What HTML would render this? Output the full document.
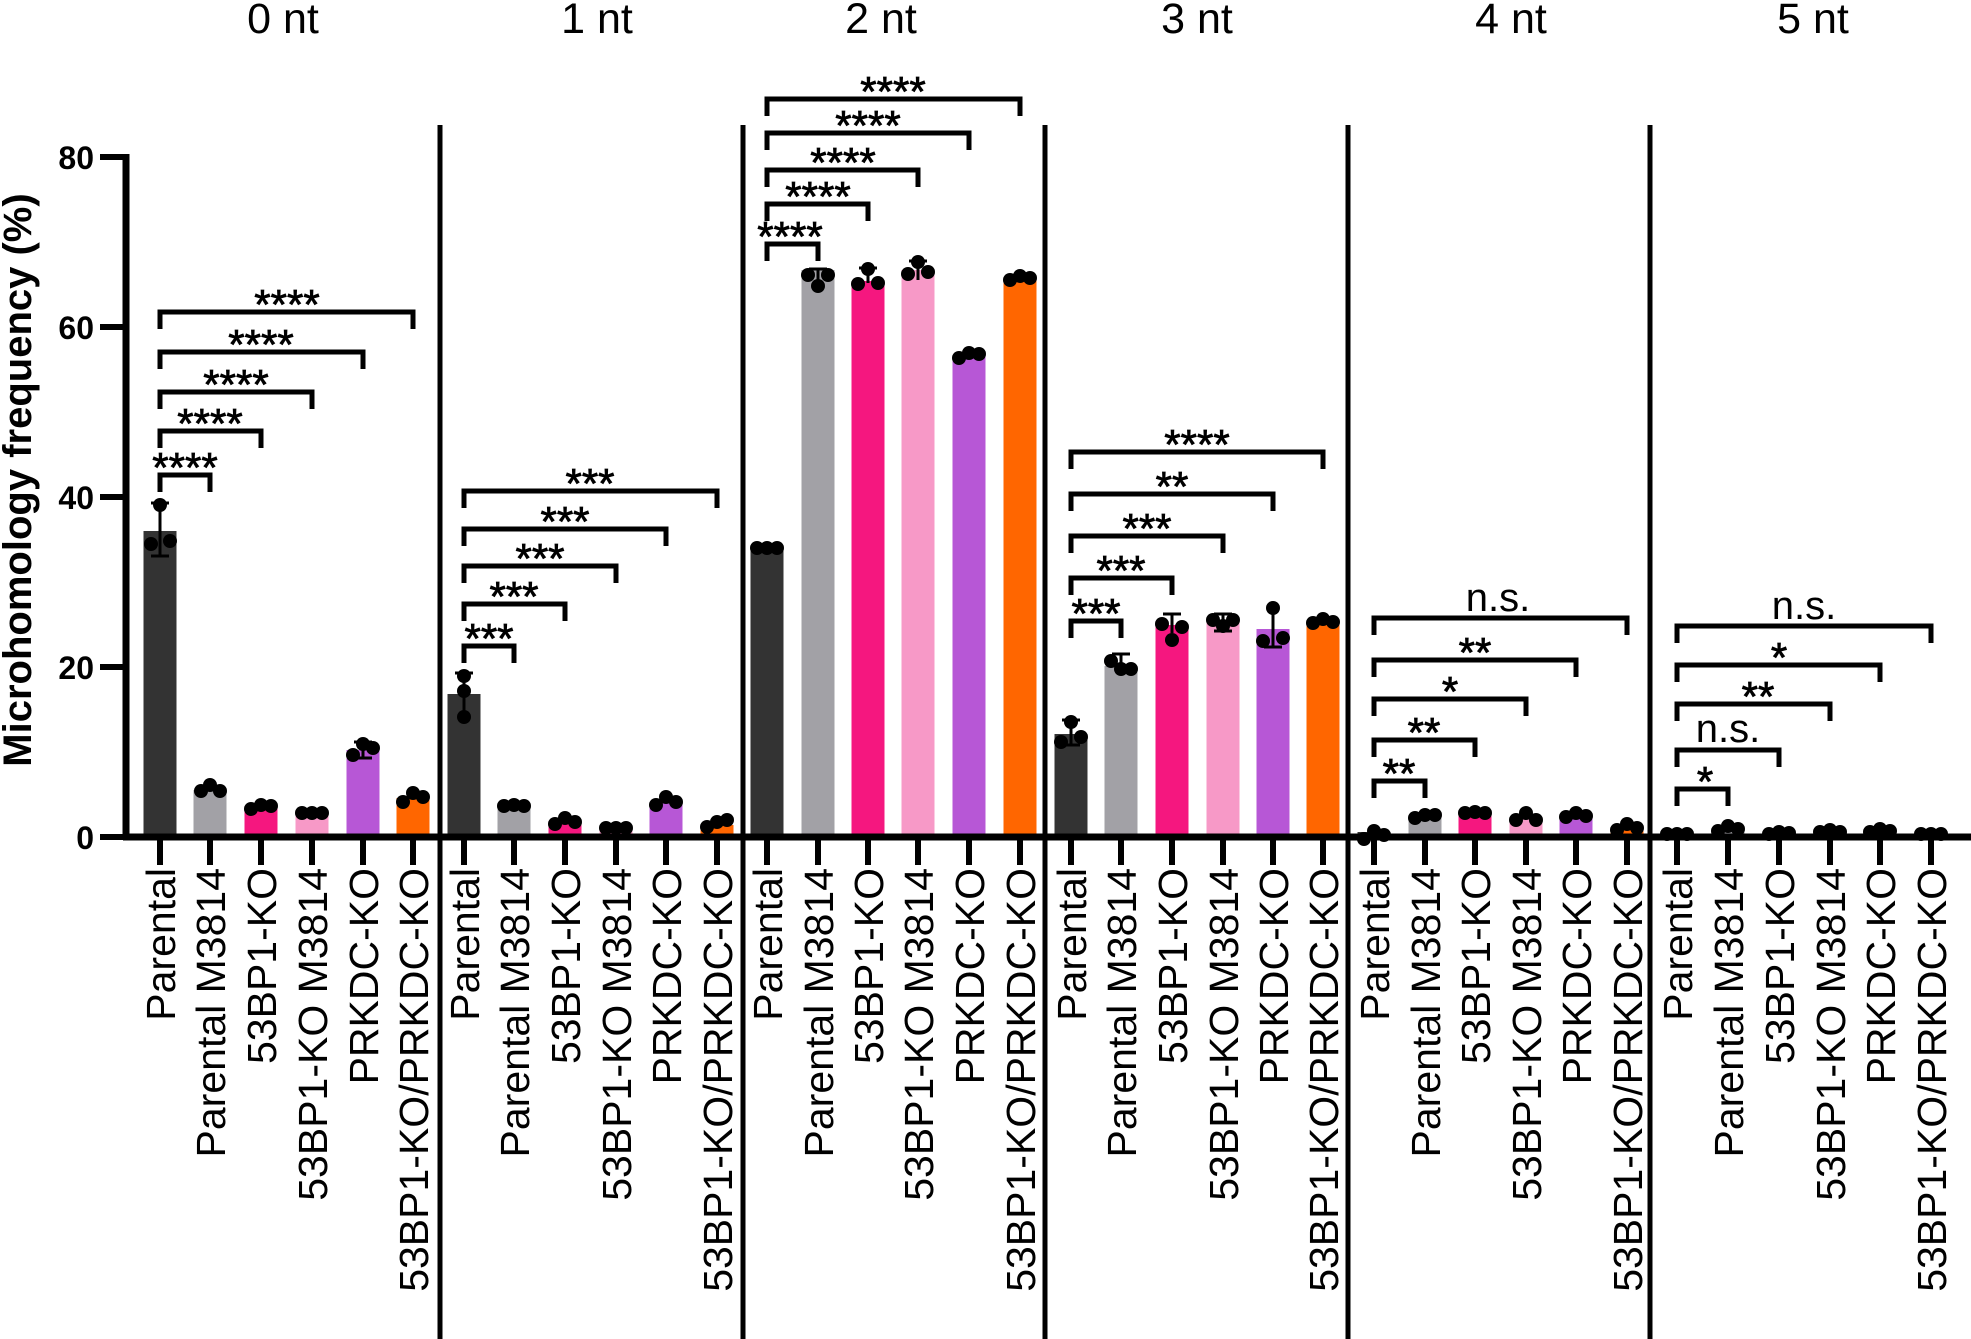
<!DOCTYPE html>
<html><head><meta charset="utf-8"><style>
html,body{margin:0;padding:0;background:#fff;}
svg{display:block;}
text{font-family:"Liberation Sans",Arial,sans-serif;fill:#000;}
.br{fill:none;stroke:#000;stroke-width:5;}
.st{font-size:42px;text-anchor:middle;stroke:#000;stroke-width:0.8px;}
.ns{font-size:40px;text-anchor:middle;}
.xl{font-size:41px;text-anchor:end;}
.tt{font-size:43px;text-anchor:middle;}
.yl{font-size:32px;font-weight:bold;text-anchor:end;}
.eb{stroke:#000;stroke-width:3;fill:none;}
</style></head><body>
<svg width="1971" height="1339" viewBox="0 0 1971 1339" xmlns="http://www.w3.org/2000/svg">
<!-- titles -->
<text class="tt" x="283" y="33">0 nt</text>
<text class="tt" x="597" y="33">1 nt</text>
<text class="tt" x="881" y="33">2 nt</text>
<text class="tt" x="1197" y="33">3 nt</text>
<text class="tt" x="1511" y="33">4 nt</text>
<text class="tt" x="1813" y="33">5 nt</text>
<!-- y axis title -->
<text transform="translate(31,480) rotate(-90)" style="font-size:40px;font-weight:bold;text-anchor:middle">Microhomology frequency (%)</text>
<!-- y ticks -->
<text class="yl" x="94" y="169">80</text>
<text class="yl" x="94" y="339">60</text>
<text class="yl" x="94" y="509">40</text>
<text class="yl" x="94" y="679">20</text>
<text class="yl" x="94" y="849">0</text>
<g stroke="#000" stroke-width="6">
<line x1="100" y1="157" x2="126" y2="157"/>
<line x1="100" y1="327" x2="126" y2="327"/>
<line x1="100" y1="497" x2="126" y2="497"/>
<line x1="100" y1="667" x2="126" y2="667"/>
<line x1="100" y1="837" x2="126" y2="837"/>
</g>
<!-- bars -->
<g>
<rect x="143.5" y="531" width="33" height="306" fill="#333"/>
<rect x="193.5" y="790" width="33" height="47" fill="#a2a1a6"/>
<rect x="244.5" y="806" width="33" height="31" fill="#f5177f"/>
<rect x="295.5" y="813" width="33" height="24" fill="#f799c7"/>
<rect x="346.5" y="750" width="33" height="87" fill="#b757d6"/>
<rect x="396.5" y="798" width="33" height="39" fill="#ff6600"/>

<rect x="447.5" y="694" width="33" height="143" fill="#333"/>
<rect x="497.5" y="806" width="33" height="31" fill="#a2a1a6"/>
<rect x="548.5" y="821" width="33" height="16" fill="#f5177f"/>
<rect x="599.5" y="828" width="33" height="9" fill="#f799c7"/>
<rect x="649.5" y="803" width="33" height="34" fill="#b757d6"/>
<rect x="700.5" y="825" width="33" height="12" fill="#ff6600"/>

<rect x="750.5" y="547" width="33" height="290" fill="#333"/>
<rect x="801.5" y="270" width="33" height="567" fill="#a2a1a6"/>
<rect x="851.5" y="281" width="33" height="556" fill="#f5177f"/>
<rect x="901.5" y="270" width="33" height="567" fill="#f799c7"/>
<rect x="952.5" y="356" width="33" height="481" fill="#b757d6"/>
<rect x="1003.5" y="280" width="33" height="557" fill="#ff6600"/>

<rect x="1054.5" y="734" width="33" height="103" fill="#333"/>
<rect x="1104.5" y="666" width="33" height="171" fill="#a2a1a6"/>
<rect x="1155.5" y="625" width="33" height="212" fill="#f5177f"/>
<rect x="1206.5" y="622" width="33" height="215" fill="#f799c7"/>
<rect x="1256.5" y="629" width="33" height="208" fill="#b757d6"/>
<rect x="1306.5" y="622" width="33" height="215" fill="#ff6600"/>

<rect x="1357.5" y="832" width="33" height="5" fill="#333"/>
<rect x="1408.5" y="816" width="33" height="21" fill="#a2a1a6"/>
<rect x="1458.5" y="812" width="33" height="25" fill="#f5177f"/>
<rect x="1509.5" y="818" width="33" height="19" fill="#f799c7"/>
<rect x="1559.5" y="816" width="33" height="21" fill="#b757d6"/>
<rect x="1610.5" y="828" width="33" height="9" fill="#ff6600"/>

<rect x="1660.5" y="833" width="33" height="4" fill="#333"/>
<rect x="1711.5" y="828" width="33" height="9" fill="#a2a1a6"/>
<rect x="1762.5" y="832" width="33" height="5" fill="#f5177f"/>
<rect x="1813.5" y="830" width="33" height="7" fill="#f799c7"/>
<rect x="1863.5" y="829" width="33" height="8" fill="#b757d6"/>
<rect x="1914.5" y="833" width="33" height="4" fill="#ff6600"/>
</g>
<!-- error bars -->
<path class="eb" d="M160 503V556M151 503H169M151 556H169"/>
<path class="eb" d="M363 742V758M354 742H372M354 758H372"/>
<path class="eb" d="M464 673V712M455 673H473"/>
<path class="eb" d="M818 269V283M809 269H827"/>
<path class="eb" d="M868 268V283M859 268H877"/>
<path class="eb" d="M918 261V280M909 261H927"/>
<path class="eb" d="M1071 720V745M1062 720H1080M1062 745H1080"/>
<path class="eb" d="M1121 654V668M1112 654H1130"/>
<path class="eb" d="M1172 614V633M1163 614H1181"/>
<path class="eb" d="M1223 614V631M1214 614H1232M1214 631H1232"/>
<path class="eb" d="M1273 606V647M1264 647H1282"/>
<!-- dots -->
<g fill="#000">
<circle cx="160" cy="505" r="7"/><circle cx="151" cy="544" r="7"/><circle cx="170" cy="541" r="7"/>
<circle cx="201" cy="791" r="7"/><circle cx="210" cy="785" r="7"/><circle cx="220" cy="791" r="7"/>
<circle cx="251" cy="809" r="7"/><circle cx="261" cy="805" r="7"/><circle cx="271" cy="806" r="7"/>
<circle cx="302" cy="813" r="7"/><circle cx="312" cy="813" r="7"/><circle cx="322" cy="813" r="7"/>
<circle cx="353" cy="755" r="7"/><circle cx="363" cy="744" r="7"/><circle cx="373" cy="748" r="7"/>
<circle cx="403" cy="802" r="7"/><circle cx="413" cy="793" r="7"/><circle cx="423" cy="797" r="7"/>

<circle cx="464" cy="676" r="7"/><circle cx="464" cy="691" r="7"/><circle cx="464" cy="717" r="7"/>
<circle cx="504" cy="806" r="7"/><circle cx="514" cy="805" r="7"/><circle cx="524" cy="806" r="7"/>
<circle cx="555" cy="824" r="7"/><circle cx="565" cy="818" r="7"/><circle cx="575" cy="822" r="7"/>
<circle cx="606" cy="828" r="7"/><circle cx="616" cy="828" r="7"/><circle cx="626" cy="828" r="7"/>
<circle cx="656" cy="805" r="7"/><circle cx="666" cy="797" r="7"/><circle cx="676" cy="802" r="7"/>
<circle cx="707" cy="827" r="7"/><circle cx="717" cy="822" r="7"/><circle cx="727" cy="820" r="7"/>

<circle cx="757" cy="548" r="7"/><circle cx="767" cy="548" r="7"/><circle cx="777" cy="548" r="7"/>
<circle cx="808" cy="275" r="7"/><circle cx="818" cy="286" r="7"/><circle cx="828" cy="275" r="7"/>
<circle cx="858" cy="284" r="7"/><circle cx="868" cy="269" r="7"/><circle cx="878" cy="283" r="7"/>
<circle cx="908" cy="274" r="7"/><circle cx="918" cy="262" r="7"/><circle cx="928" cy="272" r="7"/>
<circle cx="959" cy="358" r="7"/><circle cx="969" cy="353" r="7"/><circle cx="979" cy="354" r="7"/>
<circle cx="1010" cy="280" r="7"/><circle cx="1020" cy="276" r="7"/><circle cx="1030" cy="278" r="7"/>

<circle cx="1061" cy="742" r="7"/><circle cx="1071" cy="722" r="7"/><circle cx="1081" cy="737" r="7"/>
<circle cx="1111" cy="661" r="7"/><circle cx="1121" cy="669" r="7"/><circle cx="1131" cy="669" r="7"/>
<circle cx="1162" cy="624" r="7"/><circle cx="1172" cy="640" r="7"/><circle cx="1182" cy="627" r="7"/>
<circle cx="1213" cy="620" r="7"/><circle cx="1223" cy="626" r="7"/><circle cx="1233" cy="620" r="7"/>
<circle cx="1263" cy="641" r="7"/><circle cx="1273" cy="608" r="7"/><circle cx="1283" cy="638" r="7"/>
<circle cx="1313" cy="623" r="7"/><circle cx="1323" cy="619" r="7"/><circle cx="1333" cy="622" r="7"/>

<circle cx="1364" cy="839" r="7"/><circle cx="1374" cy="831" r="7"/><circle cx="1384" cy="835" r="7"/>
<circle cx="1415" cy="818" r="7"/><circle cx="1425" cy="815" r="7"/><circle cx="1435" cy="815" r="7"/>
<circle cx="1465" cy="813" r="7"/><circle cx="1475" cy="812" r="7"/><circle cx="1485" cy="813" r="7"/>
<circle cx="1516" cy="820" r="7"/><circle cx="1526" cy="813" r="7"/><circle cx="1536" cy="820" r="7"/>
<circle cx="1566" cy="817" r="7"/><circle cx="1576" cy="813" r="7"/><circle cx="1586" cy="816" r="7"/>
<circle cx="1617" cy="830" r="7"/><circle cx="1627" cy="824" r="7"/><circle cx="1637" cy="828" r="7"/>

<circle cx="1667" cy="834" r="7"/><circle cx="1677" cy="834" r="7"/><circle cx="1687" cy="834" r="7"/>
<circle cx="1718" cy="831" r="7"/><circle cx="1728" cy="826" r="7"/><circle cx="1738" cy="829" r="7"/>
<circle cx="1769" cy="834" r="7"/><circle cx="1779" cy="832" r="7"/><circle cx="1789" cy="833" r="7"/>
<circle cx="1820" cy="832" r="7"/><circle cx="1830" cy="830" r="7"/><circle cx="1840" cy="832" r="7"/>
<circle cx="1870" cy="832" r="7"/><circle cx="1880" cy="829" r="7"/><circle cx="1890" cy="831" r="7"/>
<circle cx="1921" cy="834" r="7"/><circle cx="1931" cy="834" r="7"/><circle cx="1941" cy="834" r="7"/>
</g>
<!-- axes -->
<line x1="126" y1="154" x2="126" y2="840" stroke="#000" stroke-width="7"/>
<line x1="123" y1="837" x2="1971" y2="837" stroke="#000" stroke-width="7"/>
<g stroke="#000" stroke-width="5">
<line x1="440" y1="125" x2="440" y2="1339"/>
<line x1="743" y1="125" x2="743" y2="1339"/>
<line x1="1045" y1="125" x2="1045" y2="1339"/>
<line x1="1348" y1="125" x2="1348" y2="1339"/>
<line x1="1650" y1="125" x2="1650" y2="1339"/>
</g>
<g stroke="#000" stroke-width="6">
<path d="M160 837V865M210 837V865M261 837V865M312 837V865M363 837V865M413 837V865"/>
<path d="M464 837V865M514 837V865M565 837V865M616 837V865M666 837V865M717 837V865"/>
<path d="M767 837V865M818 837V865M868 837V865M918 837V865M969 837V865M1020 837V865"/>
<path d="M1071 837V865M1121 837V865M1172 837V865M1223 837V865M1273 837V865M1323 837V865"/>
<path d="M1374 837V865M1425 837V865M1475 837V865M1526 837V865M1576 837V865M1627 837V865"/>
<path d="M1677 837V865M1728 837V865M1779 837V865M1830 837V865M1880 837V865M1931 837V865"/>
</g>
<!-- brackets -->
<path class="br" d="M160 492V475H210V492M160 448V431H261V448M160 409V392H312V409M160 369V352H363V369M160 329V312H413V329"/>
<text class="st" x="185" y="482">****</text>
<text class="st" x="210" y="438">****</text>
<text class="st" x="236" y="399">****</text>
<text class="st" x="261" y="359">****</text>
<text class="st" x="287" y="319">****</text>
<path class="br" d="M464 663V646H514V663M464 621V604H565V621M464 583V566H616V583M464 546V529H666V546M464 508V491H717V508"/>
<text class="st" x="489" y="653">***</text>
<text class="st" x="514" y="611">***</text>
<text class="st" x="540" y="573">***</text>
<text class="st" x="565" y="536">***</text>
<text class="st" x="590" y="498">***</text>
<path class="br" d="M767 261V244H818V261M767 221V204H868V221M767 187V170H918V187M767 150V133H969V150M767 116V99H1020V116"/>
<text class="st" x="790" y="251">****</text>
<text class="st" x="818" y="211">****</text>
<text class="st" x="843" y="177">****</text>
<text class="st" x="868" y="140">****</text>
<text class="st" x="893" y="106">****</text>
<path class="br" d="M1071 638V621H1121V638M1071 595V578H1172V595M1071 553V536H1223V553M1071 511V494H1273V511M1071 469V452H1323V469"/>
<text class="st" x="1096" y="628">***</text>
<text class="st" x="1121" y="585">***</text>
<text class="st" x="1147" y="543">***</text>
<text class="st" x="1172" y="501">**</text>
<text class="st" x="1197" y="459">****</text>
<path class="br" d="M1374 798V781H1425V798M1374 757V740H1475V757M1374 716V699H1526V716M1374 677V660H1576V677M1374 635V618H1627V635"/>
<text class="st" x="1399" y="788">**</text>
<text class="st" x="1424" y="747">**</text>
<text class="st" x="1450" y="706">*</text>
<text class="st" x="1475" y="667">**</text>
<text class="ns" x="1498" y="611">n.s.</text>
<path class="br" d="M1677 806V789H1728V806M1677 767V750H1779V767M1677 721V704H1830V721M1677 682V665H1880V682M1677 643V626H1931V643"/>
<text class="st" x="1705" y="796">*</text>
<text class="ns" x="1728" y="742">n.s.</text>
<text class="st" x="1758" y="711">**</text>
<text class="st" x="1779" y="672">*</text>
<text class="ns" x="1804" y="619">n.s.</text>
<!-- x labels -->
<g class="xl">
<text transform="translate(175,868) rotate(-90)">Parental</text>
<text transform="translate(225,868) rotate(-90)">Parental M3814</text>
<text transform="translate(276,868) rotate(-90)">53BP1-KO</text>
<text transform="translate(327,868) rotate(-90)">53BP1-KO M3814</text>
<text transform="translate(378,868) rotate(-90)">PRKDC-KO</text>
<text transform="translate(428,868) rotate(-90)">53BP1-KO/PRKDC-KO</text>
<text transform="translate(479,868) rotate(-90)">Parental</text>
<text transform="translate(529,868) rotate(-90)">Parental M3814</text>
<text transform="translate(580,868) rotate(-90)">53BP1-KO</text>
<text transform="translate(631,868) rotate(-90)">53BP1-KO M3814</text>
<text transform="translate(681,868) rotate(-90)">PRKDC-KO</text>
<text transform="translate(732,868) rotate(-90)">53BP1-KO/PRKDC-KO</text>
<text transform="translate(782,868) rotate(-90)">Parental</text>
<text transform="translate(833,868) rotate(-90)">Parental M3814</text>
<text transform="translate(883,868) rotate(-90)">53BP1-KO</text>
<text transform="translate(933,868) rotate(-90)">53BP1-KO M3814</text>
<text transform="translate(984,868) rotate(-90)">PRKDC-KO</text>
<text transform="translate(1035,868) rotate(-90)">53BP1-KO/PRKDC-KO</text>
<text transform="translate(1086,868) rotate(-90)">Parental</text>
<text transform="translate(1136,868) rotate(-90)">Parental M3814</text>
<text transform="translate(1187,868) rotate(-90)">53BP1-KO</text>
<text transform="translate(1238,868) rotate(-90)">53BP1-KO M3814</text>
<text transform="translate(1288,868) rotate(-90)">PRKDC-KO</text>
<text transform="translate(1338,868) rotate(-90)">53BP1-KO/PRKDC-KO</text>
<text transform="translate(1389,868) rotate(-90)">Parental</text>
<text transform="translate(1440,868) rotate(-90)">Parental M3814</text>
<text transform="translate(1490,868) rotate(-90)">53BP1-KO</text>
<text transform="translate(1541,868) rotate(-90)">53BP1-KO M3814</text>
<text transform="translate(1591,868) rotate(-90)">PRKDC-KO</text>
<text transform="translate(1642,868) rotate(-90)">53BP1-KO/PRKDC-KO</text>
<text transform="translate(1692,868) rotate(-90)">Parental</text>
<text transform="translate(1743,868) rotate(-90)">Parental M3814</text>
<text transform="translate(1794,868) rotate(-90)">53BP1-KO</text>
<text transform="translate(1845,868) rotate(-90)">53BP1-KO M3814</text>
<text transform="translate(1895,868) rotate(-90)">PRKDC-KO</text>
<text transform="translate(1946,868) rotate(-90)">53BP1-KO/PRKDC-KO</text>
</g>
</svg>
</body></html>
